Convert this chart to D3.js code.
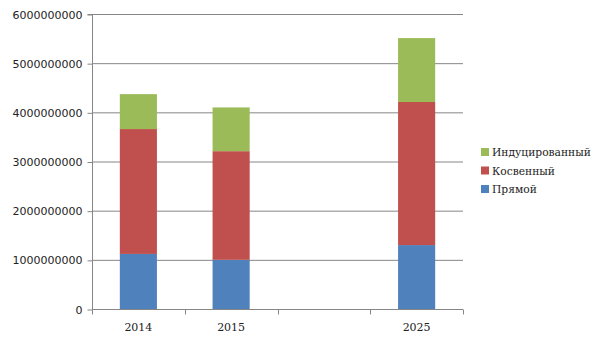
<!DOCTYPE html>
<html><head><meta charset="utf-8">
<script src="https://cdn.jsdelivr.net/npm/d3@7"></script>
<style>body{margin:0;background:#fff}</style>
</head><body>
<svg id="c" width="605" height="340"></svg>
<script>
const categories = ["2014", "2015", "", "2025"];
const seriesNames = ["Прямой", "Косвенный", "Индуцированный"];
const direct = [1120000000, 1000000000, 0, 1300000000];
const indirect = [2540000000, 2210000000, 0, 2910000000];
const induced = [710000000, 890000000, 0, 1300000000];
const yTicks = [0, 1000000000, 2000000000, 3000000000, 4000000000, 5000000000, 6000000000];
const colors = ["#4f81bd", "#c0504d", "#9bbb59"];

const svg = d3.select("#c");
const L = 92, R = 463, T = 14, B = 309;
const x = d3.scaleBand().domain(d3.range(categories.length)).range([L, R]).paddingInner(0).paddingOuter(0);
const y = d3.scaleLinear().domain([0, 6000000000]).range([B, T]);
const grid = "#868686";

// gridlines
svg.append("g").selectAll("line").data(yTicks.filter(d => d > 0)).join("line")
  .attr("x1", L).attr("x2", R).attr("y1", d => y(d) + 0.5).attr("y2", d => y(d) + 0.5)
  .attr("stroke", grid).attr("stroke-width", 1);

// stacked bars
const rows = categories.map((c, i) => ({i, a: direct[i], b: indirect[i], c: induced[i]}));
const stack = d3.stack().keys(["a", "b", "c"])(rows);
const bw = x.bandwidth() * 0.4;
svg.append("g").selectAll("g").data(stack).join("g").attr("fill", (d, k) => colors[k])
  .selectAll("rect").data(d => d).join("rect")
  .attr("x", d => x(d.data.i) + (x.bandwidth() - bw) / 2)
  .attr("width", bw)
  .attr("y", d => y(d[1]))
  .attr("height", d => y(d[0]) - y(d[1]));

// y axis
const yAxis = d3.axisLeft(y).tickValues(yTicks).tickFormat(d3.format("d")).tickSize(5).tickPadding(5);
const ya = svg.append("g").attr("transform", `translate(${L + 0.5},0.5)`).call(yAxis);
ya.select(".domain").attr("stroke", grid).attr("d", `M-5,${y(6000000000)}H0V${B}`);
ya.selectAll(".tick line").attr("stroke", grid);
ya.selectAll("text").attr("font-family", "DejaVu Sans").attr("font-size", 11).attr("fill", "#222");

// x axis
const xa = svg.append("g").attr("transform", `translate(0,${B + 0.5})`);
xa.append("line").attr("x1", L).attr("x2", R).attr("stroke", grid);
const bounds = d3.range(categories.length + 1).map(i => i < categories.length ? x(i) : R);
xa.selectAll("line.t").data(bounds).join("line").attr("class", "t")
  .attr("x1", d => Math.round(d) + 0.5).attr("x2", d => Math.round(d) + 0.5).attr("y1", 0).attr("y2", 5).attr("stroke", grid);
xa.selectAll("text").data(categories).join("text")
  .attr("x", (d, i) => x(i) + x.bandwidth() / 2).attr("y", 21)
  .attr("text-anchor", "middle").attr("font-family", "DejaVu Serif").attr("font-size", 11).attr("fill", "#222")
  .text(d => d);

// legend
const legendOrder = [2, 1, 0];
const lg = svg.append("g");
legendOrder.forEach((k, j) => {
  const yy = 148 + j * 18.5;
  lg.append("rect").attr("x", 481).attr("y", yy).attr("width", 8).attr("height", 8).attr("fill", colors[k]);
  lg.append("text").attr("x", 492).attr("y", yy + 8).attr("font-family", "DejaVu Serif").attr("font-size", 10.7)
    .attr("fill", "#222").text(seriesNames[k]);
});
</script>
</body></html>
